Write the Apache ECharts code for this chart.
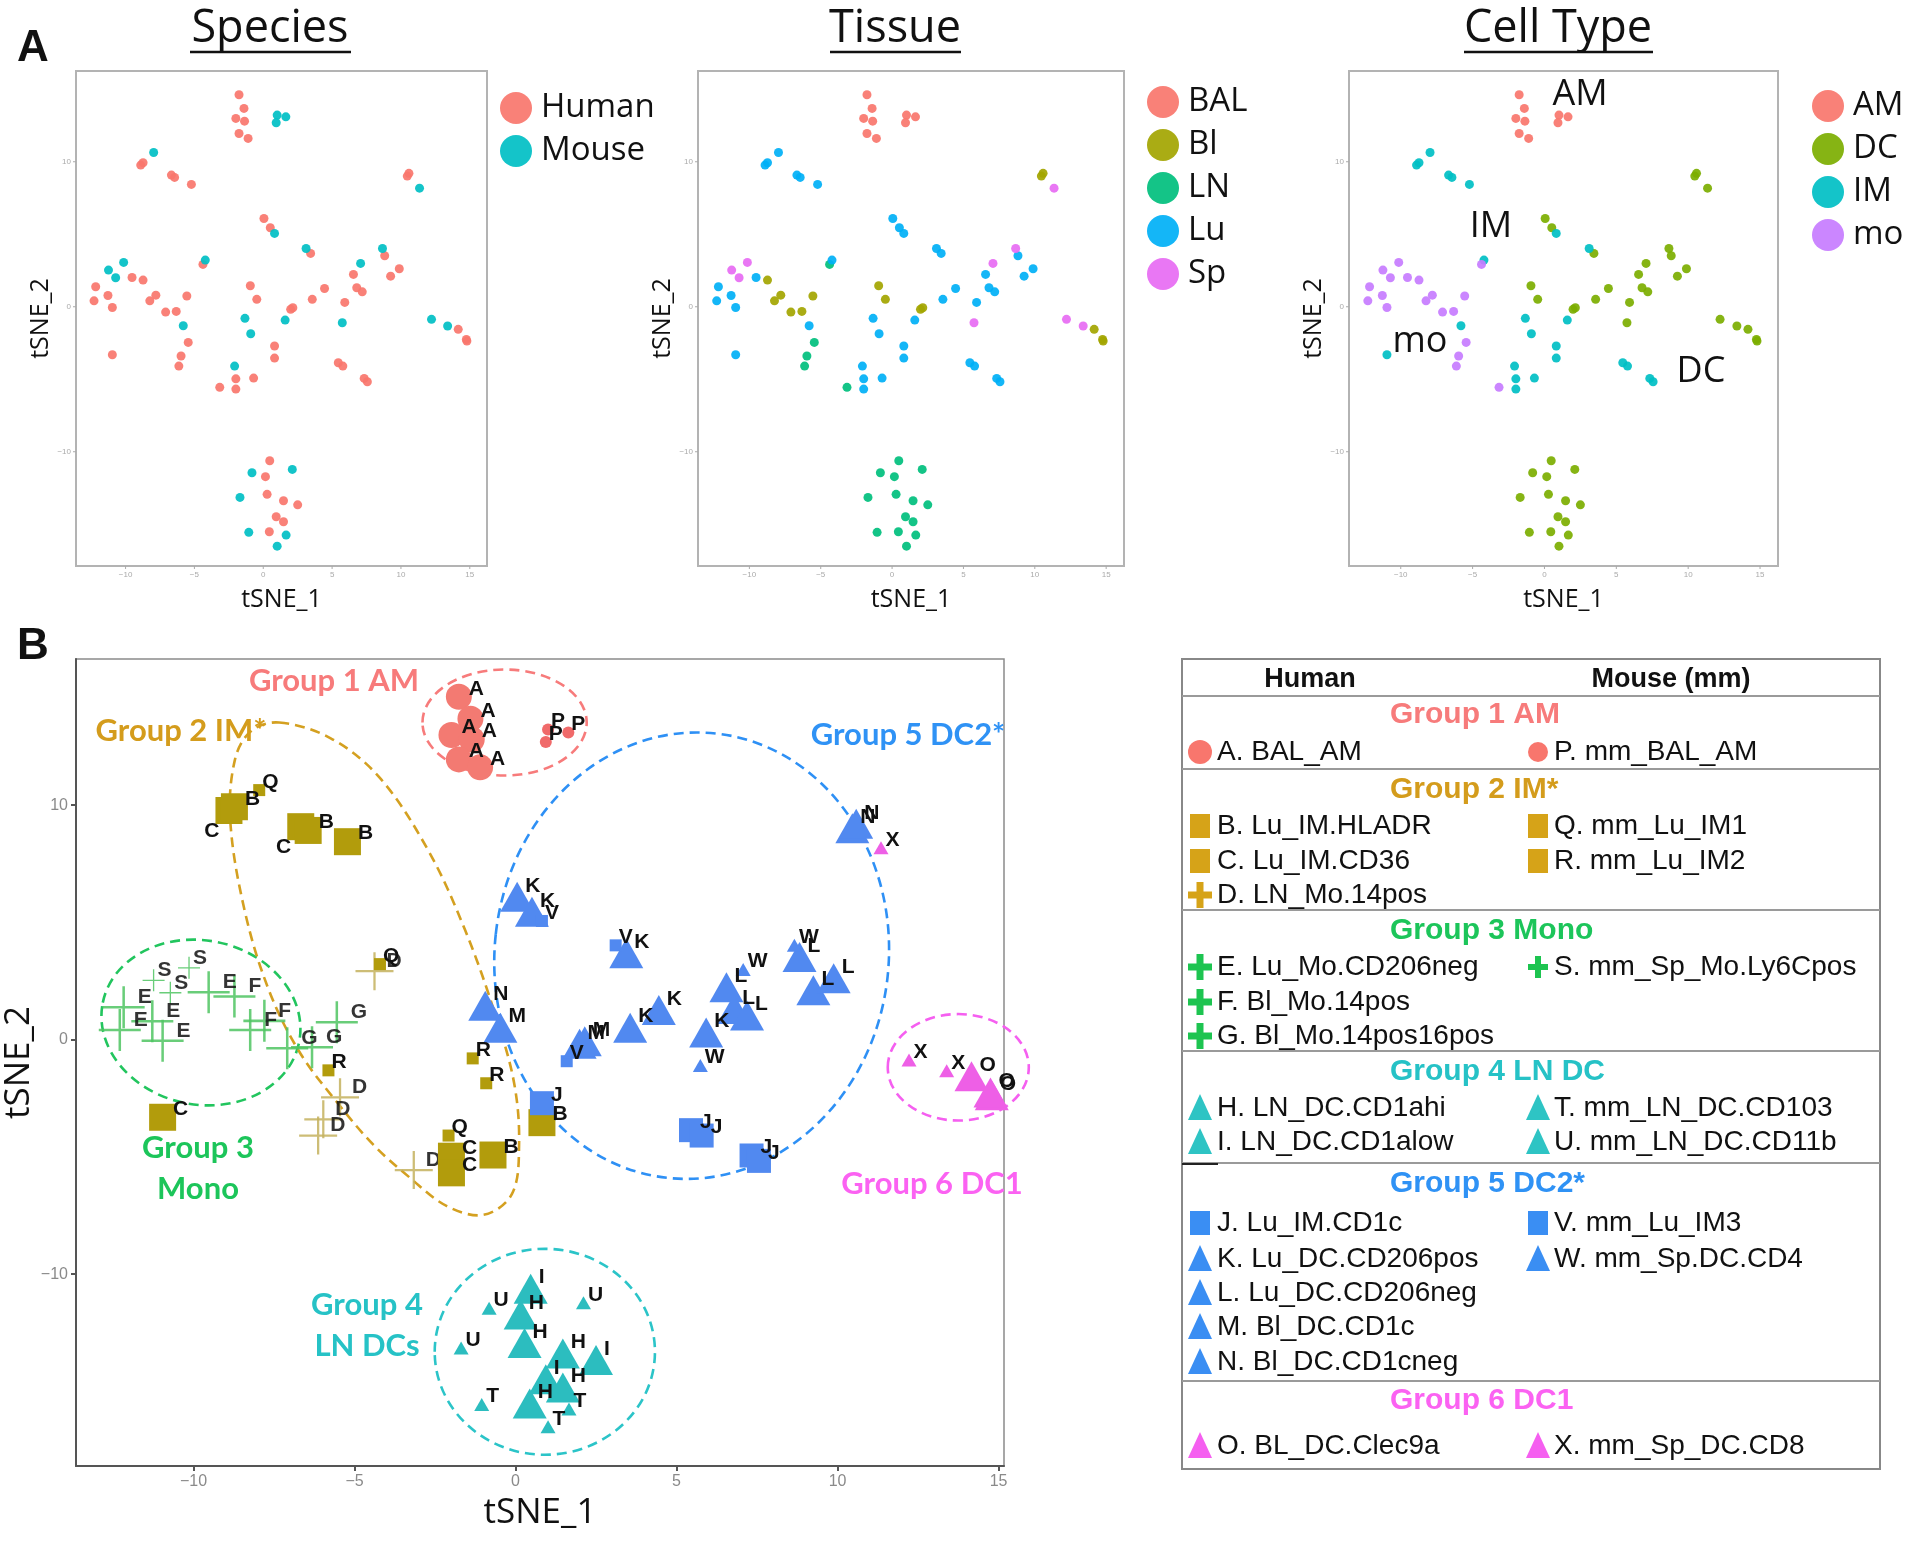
<!DOCTYPE html>
<html><head><meta charset="utf-8"><title>tSNE</title>
<script src="https://cdn.jsdelivr.net/npm/echarts@6.0.0/dist/echarts.min.js"></script>
<style>html,body{margin:0;padding:0;background:#fff;}#chart{width:1920px;height:1542px;}</style>
</head><body><div id="chart"></div>
<script>
// ---------------- DATA ----------------
const tsne1 = [-1.76,-1.40,-1.99,-1.36,-1.76,-1.10,1.01,1.64,0.94,
  -7.96,-8.90,-8.73,-6.67,-6.44,-5.22,
  10.46,10.58,11.35,
  0.05,0.51,0.82,3.11,3.44,
  -4.21,-4.38,
  -10.14,-11.24,-10.72,-9.53,-8.73,-12.17,-12.29,-11.28,-10.96,-7.80,-8.24,-5.55,-7.09,-6.32,
  -5.81,-5.45,-5.97,-6.13,-10.96,
  -0.94,-0.47,1.99,2.15,-1.33,-0.91,1.59,0.82,0.82,-2.08,-1.99,-1.99,-0.70,-3.16,
  3.56,4.45,5.92,6.55,7.07,6.79,7.19,5.74,8.66,8.82,9.25,9.88,5.45,5.78,7.33,7.56,
  12.22,13.39,14.16,14.79,14.75,
  0.47,-0.82,0.16,2.11,-1.69,0.28,1.47,2.50,0.94,1.47,-1.05,0.44,1.66,1.01];
const tsne2 = [14.62,13.68,12.99,12.80,11.95,11.61,13.22,13.10,12.69,
  10.64,9.77,9.93,9.08,8.92,8.44,
  9.01,9.20,8.18,
  6.09,5.45,5.06,4.02,3.68,
  3.22,2.92,
  3.06,2.53,2.00,2.02,1.84,1.38,0.41,0.78,-0.05,0.80,0.41,0.74,-0.37,-0.32,
  -1.31,-2.46,-3.40,-4.09,-3.31,
  1.45,0.51,-0.18,-0.07,-0.80,-1.86,-0.92,-2.71,-3.54,-4.09,-4.97,-5.68,-4.92,-5.56,
  0.51,1.26,0.30,2.23,2.99,1.31,1.03,-1.10,4.02,3.52,2.11,2.62,-3.86,-4.09,-4.94,-5.17,
  -0.87,-1.33,-1.56,-2.37,-2.25,
  -10.62,-11.45,-11.72,-11.22,-13.15,-12.94,-13.38,-13.66,-14.48,-14.83,-15.56,-15.52,-15.75,-16.51];
const species = ('H H H H H H M M M  M H H H H H  H H M  H H M M H  M H  ' +
  'M M M H H H H H H H H H H H  M H H H H  H H H H M M M H H M H H H H  ' +
  'H H H H M H H M M H H H H H H H  M M H H H  H M H M M H H H H H M H M M').trim().split(/\s+/).map(s => s === 'H' ? 'Human' : 'Mouse');
const tissue = ('BAL BAL BAL BAL BAL BAL BAL BAL BAL  Lu Lu Lu Lu Lu Lu  Bl Bl Sp  Lu Lu Lu Lu Lu  Lu LN  ' +
  'Sp Sp Sp Lu Bl Lu Lu Lu Lu Bl Bl Bl Bl Bl  Lu LN LN LN Lu  Bl Bl Bl Bl Lu Lu Lu Lu Lu Lu Lu Lu Lu LN  ' +
  'Lu Lu Lu Lu Sp Lu Lu Sp Sp Lu Lu Lu Lu Lu Lu Lu  Sp Sp Bl Bl Bl  LN LN LN LN LN LN LN LN LN LN LN LN LN LN').trim().split(/\s+/);
const cellType = ('AM AM AM AM AM AM AM AM AM  IM IM IM IM IM IM  DC DC DC  DC DC IM IM DC  IM mo  ' +
  'mo mo mo mo mo mo mo mo mo mo mo mo mo mo  IM mo mo mo IM  DC DC DC DC IM IM IM IM IM IM IM IM IM mo  ' +
  'DC DC DC DC DC DC DC DC DC DC DC DC IM IM IM IM  DC DC DC DC DC  DC DC DC DC DC DC DC DC DC DC DC DC DC DC').trim().split(/\s+/);
const sampleCode = ('A A A A A A P P P  Q C B C B B  N N X  K K V V K  Q D  ' +
  'S S S E F E E E E F F G G G  R D D D C  N M M M R R V J B Q C C B D  ' +
  'K K K L W L L W W L L L J J J J  X X O O O  I U H U U H H I I H T H T T').trim().split(/\s+/);

const speciesCats = ['Human', 'Mouse'];
const tissueCats = ['BAL', 'Bl', 'LN', 'Lu', 'Sp'];
const cellCats = ['AM', 'DC', 'IM', 'mo'];
const xTicksA = [-10, -5, 0, 5, 10, 15];
const yTicksA = [-10, 0, 10];
const xTicksB = [-10, -5, 0, 5, 10, 15];
const yTicksB = [-10, 0, 10];

const groupTitles = ['Group 1 AM', 'Group 2 IM*', 'Group 3 Mono', 'Group 4 LN DC', 'Group 5 DC2*', 'Group 6 DC1'];
const humanEntries = [['A. BAL_AM'], ['B. Lu_IM.HLADR', 'C. Lu_IM.CD36', 'D. LN_Mo.14pos'],
  ['E. Lu_Mo.CD206neg', 'F. Bl_Mo.14pos', 'G. Bl_Mo.14pos16pos'], ['H. LN_DC.CD1ahi', 'I. LN_DC.CD1alow'],
  ['J. Lu_IM.CD1c', 'K. Lu_DC.CD206pos', 'L. Lu_DC.CD206neg', 'M. Bl_DC.CD1c', 'N. Bl_DC.CD1cneg'], ['O. BL_DC.Clec9a']];
const mouseEntries = [['P. mm_BAL_AM'], ['Q. mm_Lu_IM1', 'R. mm_Lu_IM2'], ['S. mm_Sp_Mo.Ly6Cpos'],
  ['T. mm_LN_DC.CD103', 'U. mm_LN_DC.CD11b'], ['V. mm_Lu_IM3', 'W. mm_Sp.DC.CD4'], ['X. mm_Sp_DC.CD8']];

// ---------------- STYLES ----------------
const speciesColors = ['#F8766D', '#00BFC4'];
const tissueColors = ['#F8766D', '#A3A500', '#00BF7D', '#00B0F6', '#E76BF3'];
const cellColors = ['#F8766D', '#7CAE00', '#00BFC4', '#C77CFF'];
const groupText = ['#F77B7B', '#D49C1C', '#1CC55A', '#26C2C6', '#2F92F5', '#FB62F2'];
const groupIcon = ['#F8766D', '#D6A318', '#1DC450', '#2EC4C4', '#3A8EF3', '#F55FF0'];
const ringColor = ['#F77B7B', '#D4A020', '#22C55E', '#2BC4C8', '#2E90F5', '#F55FF0'];
const plusPath = 'path://M9.4,0H10.6V9.4H20V10.6H10.6V20H9.4V10.6H0V9.4H9.4Z';
const shapeOf = L => 'AP'.includes(L) ? 'circle' : 'BCQRJV'.includes(L) ? 'rect' : 'DEFGS'.includes(L) ? 'plus' : 'triangle';
const groupOf = L => 'AP'.includes(L) ? 0 : 'BCDQR'.includes(L) ? 1 : 'EFGS'.includes(L) ? 2 : 'HITU'.includes(L) ? 3 : 'JKLMNVW'.includes(L) ? 4 : 5;
const plotColor = L => ({A:'#F37A72',P:'#F06A6A',D:'#C4B25E',E:'#4FC462',F:'#4FC462',G:'#4FC462',S:'#4FC462'})[L] ||
  ['#F37A72', '#B29C0C', '#4FC462', '#2CBDBF', '#5189F0', '#EE5FE6'][groupOf(L)];
const isMouse = L => 'PQRSTUVWX'.includes(L);
function symbolFor(L) {
  const s = shapeOf(L), m = isMouse(L);
  if (s === 'circle') return { symbol: 'circle', size: m ? 12 : 26 };
  if (s === 'rect') return { symbol: 'rect', size: m ? 12 : (L === 'J' ? 24 : 27) };
  if (s === 'plus') return { symbol: plusPath, size: m ? 22 : (L === 'D' ? 38 : 42) };
  return { symbol: 'triangle', size: m ? [15, 13] : [34, 30] };
}

// ---------------- LAYOUT ----------------
const gridsA = [{left: 76, width: 411}, {left: 698, width: 426}, {left: 1349, width: 429}];
const xMinA = -13.6, xMaxA = 16.25, yMinA = -17.88, yMaxA = 16.26;
const gridB = {left: 76, top: 659, width: 928, height: 807};
const xMinB = -13.65, xMaxB = 15.17, yMinB = -18.18, yMaxB = 16.23;

const FONT = '"Open Sans", sans-serif';
const grids = gridsA.map(g => ({left: g.left, width: g.width, top: 71, height: 495, show: true,
  borderColor: '#b3b3b3', borderWidth: 2, backgroundColor: '#fff', containLabel: false, outerBoundsMode: 'none'}));
grids.push({left: gridB.left, top: gridB.top, width: gridB.width, height: gridB.height, show: true,
  borderColor: '#8a8a8a', borderWidth: 1.5, backgroundColor: '#fff', containLabel: false, outerBoundsMode: 'none'});

const minus = v => String(v).replace('-', '\u2212');
const xAxes = [], yAxes = [];
for (let i = 0; i < 3; i++) {
  xAxes.push({gridIndex: i, type: 'value', position: 'bottom', min: xMinA, max: xMaxA, splitLine: {show: false},
    axisLine: {show: false, onZero: false}, axisTick: {show: false},
    axisLabel: {customValues: xTicksA, fontSize: 8, color: '#aaa', margin: 5, formatter: minus},
    name: 'tSNE_1', nameLocation: 'middle', nameGap: 21,
    nameTextStyle: {fontFamily: FONT, fontSize: 25, color: '#111'}});
  yAxes.push({gridIndex: i, type: 'value', position: 'left', min: yMinA, max: yMaxA, splitLine: {show: false},
    axisLine: {show: false, onZero: false}, axisTick: {show: false},
    axisLabel: {customValues: yTicksA, fontSize: 8, color: '#aaa', margin: 5, formatter: minus},
    name: 'tSNE_2', nameLocation: 'middle', nameGap: 20,
    nameTextStyle: {fontFamily: FONT, fontSize: 25, color: '#111'}});
}
xAxes.push({gridIndex: 3, type: 'value', position: 'bottom', min: xMinB, max: xMaxB, splitLine: {show: false},
  axisLine: {show: true, onZero: false, lineStyle: {color: '#555', width: 2}},
  axisTick: {show: true, length: 5, customValues: xTicksB, lineStyle: {color: '#555', width: 2}},
  axisLabel: {customValues: xTicksB, fontSize: 16, color: '#8a8a8a', margin: 8, fontFamily: 'Liberation Sans', formatter: minus},
  name: 'tSNE_1', nameLocation: 'middle', nameGap: 30,
  nameTextStyle: {fontFamily: FONT, fontSize: 35, color: '#111'}});
yAxes.push({gridIndex: 3, type: 'value', position: 'left', min: yMinB, max: yMaxB, splitLine: {show: false},
  axisLine: {show: true, onZero: false, lineStyle: {color: '#555', width: 2}},
  axisTick: {show: true, length: 5, customValues: yTicksB, lineStyle: {color: '#555', width: 2}},
  axisLabel: {customValues: yTicksB, fontSize: 16, color: '#8a8a8a', margin: 8, fontFamily: 'Liberation Sans', formatter: minus},
  name: 'tSNE_2', nameLocation: 'middle', nameGap: 34,
  nameTextStyle: {fontFamily: FONT, fontSize: 35, color: '#111'}});

// ---------------- SERIES ----------------
const series = [];
function panelA(catArr, cats, colors, idx) {
  cats.forEach((c, i) => {
    series.push({type: 'scatter', name: c, xAxisIndex: idx, yAxisIndex: idx, symbol: 'circle', symbolSize: 9,
      itemStyle: {color: colors[i], opacity: 0.92}, z: 3, silent: true,
      data: tsne1.map((x, k) => catArr[k] === c ? [x, tsne2[k]] : null).filter(d => d)});
  });
}
panelA(species, speciesCats, speciesColors, 0);
panelA(tissue, tissueCats, tissueColors, 1);
panelA(cellType, cellCats, cellColors, 2);

const baseLabel = {show: true, position: 'right', distance: -3, offset: [0, -8],
  fontFamily: 'Liberation Sans', fontWeight: 'bold', fontSize: 21, color: '#111'};
function labelFor(L, y) {
  const shp = shapeOf(L);
  if (L === 'C' && y > 5) return Object.assign({}, baseLabel, {formatter: L, position: 'left', distance: -4, offset: [0, 21]});
  if (shp === 'triangle' && !isMouse(L)) return Object.assign({}, baseLabel, {formatter: L, distance: -9, offset: [0, -11]});
  if (shp === 'plus') return Object.assign({}, baseLabel, {formatter: L, distance: -7, offset: [0, -10]});
  return Object.assign({}, baseLabel, {formatter: L});
}
const letters = [...new Set(sampleCode)];
letters.forEach(L => {
  const sym = symbolFor(L), shp = shapeOf(L);
  series.push({type: 'scatter', name: 'code ' + L, xAxisIndex: 3, yAxisIndex: 3, symbol: sym.symbol,
    symbolSize: sym.size, z: shp === 'plus' ? 3 : 4, silent: true,
    itemStyle: {color: plotColor(L), opacity: shp === 'plus' ? 0.85 : 1},
    data: tsne1.map((x, k) => sampleCode[k] === L ? {value: [x, tsne2[k]], label: labelFor(L, tsne2[k])} : null).filter(d => d)});
});

const legendBase = {orient: 'vertical', icon: 'circle', itemWidth: 32, itemHeight: 32, itemGap: 7, padding: 0,
  selectedMode: false, textStyle: {fontFamily: FONT, fontSize: 33, color: '#111', lineHeight: 36, padding: [0, 0, 0, 4]}};
const legends = [
  Object.assign({}, legendBase, {data: speciesCats, left: 500, top: 90}),
  Object.assign({}, legendBase, {data: tissueCats, left: 1147, top: 84}),
  Object.assign({}, legendBase, {data: cellCats, left: 1812, top: 88})
];

const chart = echarts.init(document.getElementById('chart'), null, {renderer: 'canvas', width: 1920, height: 1542});
chart.setOption({animation: false, backgroundColor: '#fff', grid: grids, xAxis: xAxes, yAxis: yAxes,
  legend: legends, series: series});

// ---------------- ANNOTATIONS (outlines in data space) ----------------
const ellipses = [
  {g: 0, cx: -0.34, cy: 13.52, rx: 2.55, ry: 2.26, rot: 0},
  {g: 2, cx: -9.77, cy: 0.73, rx: 3.11, ry: 3.5, rot: -0.2},
  {g: 3, cx: 0.91, cy: -13.31, rx: 3.42, ry: 4.39, rot: 0},
  {g: 4, cx: 5.47, cy: 3.58, rx: 6.12, ry: 9.53, rot: -0.11},
  {g: 5, cx: 13.75, cy: -1.18, rx: 2.19, ry: 2.27, rot: 0}
];
const group2Outline = [[-7.34,13.52],[-5.74,12.85],[-4.22,11.17],[-2.70,8.04],[-1.56,4.65],[-0.61,0.99],[-0.04,-1.88],
  [0.11,-4.49],[-0.11,-6.58],[-0.99,-7.47],[-2.13,-7.10],[-3.27,-5.90],[-4.41,-4.49],[-5.55,-2.66],[-6.69,-0.57],
  [-7.64,2.04],[-8.40,5.43],[-8.86,9.35],[-8.71,11.96],[-8.21,13.16]];

const toPx = p => chart.convertToPixel({xAxisIndex: 3, yAxisIndex: 3}, p);
const o = toPx([0, 0]), ux = toPx([1, 0])[0] - o[0], uy = o[1] - toPx([0, 1])[1];
const G = [];
const dash = {lineDash: [10, 6], lineWidth: 2.6, fill: null};
ellipses.forEach(e => {
  const c = toPx([e.cx, e.cy]);
  G.push({type: 'ellipse', x: c[0], y: c[1], rotation: e.rot, z: 1, silent: true,
    shape: {cx: 0, cy: 0, rx: e.rx * ux, ry: e.ry * uy},
    style: Object.assign({stroke: ringColor[e.g]}, dash)});
});
G.push({type: 'polygon', z: 1, silent: true, shape: {points: group2Outline.map(toPx), smooth: 0.35},
  style: Object.assign({stroke: ringColor[1]}, dash)});

// small outside ticks for panel A frames (positions from the axes)
[0, 1, 2].forEach(i => {
  xTicksA.forEach(v => {
    const p = chart.convertToPixel({xAxisIndex: i, yAxisIndex: i}, [v, yMinA]);
    G.push({type: 'line', silent: true, shape: {x1: p[0], y1: p[1], x2: p[0], y2: p[1] + 3}, style: {stroke: '#aaa', lineWidth: 1}});
  });
  yTicksA.forEach(v => {
    const p = chart.convertToPixel({xAxisIndex: i, yAxisIndex: i}, [xMinA, v]);
    G.push({type: 'line', silent: true, shape: {x1: p[0] - 3, y1: p[1], x2: p[0], y2: p[1]}, style: {stroke: '#aaa', lineWidth: 1}});
  });
});

function T(x, y, text, size, color, opt) {
  return {type: 'text', x: x, y: y, z: 10, silent: true, style: Object.assign({text: text, fontSize: size,
    fontFamily: FONT, fill: color, align: 'center', verticalAlign: 'middle'}, opt || {})};
}
// Panel letters and titles
G.push(T(33, 49, 'A', 44, '#111', {fontFamily: 'Liberation Sans', fontWeight: 'bold'}));
G.push(T(33, 647, 'B', 44, '#111', {fontFamily: 'Liberation Sans', fontWeight: 'bold'}));
[[270, 'Species', 190, 351], [895, 'Tissue', 830, 961], [1558, 'Cell Type', 1464, 1653]].forEach(t => {
  G.push(T(t[0], 29, t[1], 45, '#111'));
  G.push({type: 'line', silent: true, shape: {x1: t[2], y1: 52, x2: t[3], y2: 52}, style: {stroke: '#111', lineWidth: 2.5}});
});
// Cell type annotations
G.push(T(1580, 95, 'AM', 36, '#111'));
G.push(T(1491, 227, 'IM', 36, '#111'));
G.push(T(1420, 342, 'mo', 36, '#111'));
G.push(T(1701, 372, 'DC', 36, '#111'));
// Group labels on panel B
const gl = {fontFamily: 'Lato, sans-serif', fontWeight: 'bold', lineHeight: 41};
G.push(T(334, 681, groupTitles[0], 31, groupText[0], gl));
G.push(T(181, 731, 'Group 2 IM*', 31, groupText[1], gl));
G.push(T(908, 735, 'Group 5 DC2*', 31, groupText[4], gl));
G.push(T(198, 1168, 'Group 3\nMono', 31, groupText[2], gl));
G.push(T(932, 1184, 'Group 6 DC1', 31, groupText[5], gl));
G.push(T(367, 1325, 'Group 4\nLN DCs', 31, groupText[3], gl));

// ---------------- TABLE LEGEND FOR PANEL B ----------------
const TL = 1182, TR = 1880, TT = 659, TB = 1469;
G.push({type: 'rect', silent: true, shape: {x: TL, y: TT, width: TR - TL, height: TB - TT}, style: {fill: '#fff', stroke: '#888', lineWidth: 2}, z: 5});
G.push(T(1310, 680, 'Human', 27, '#111', {fontFamily: 'Liberation Sans', fontWeight: 'bold'}));
G.push(T(1671, 680, 'Mouse (mm)', 27, '#111', {fontFamily: 'Liberation Sans', fontWeight: 'bold'}));
const sepY = [696, 769, 910, 1051, 1163, 1381];
sepY.forEach(y => G.push({type: 'line', silent: true, z: 6, shape: {x1: TL, y1: y, x2: TR, y2: y}, style: {stroke: '#9a9a9a', lineWidth: 2}}));
G.push({type: 'line', silent: true, z: 7, shape: {x1: TL, y1: 1164, x2: TL + 36, y2: 1164}, style: {stroke: '#222', lineWidth: 2}});
const titleY = [715, 790, 931, 1072, 1184, 1401];
const rowY = [[752], [826, 861, 895], [967, 1002, 1036], [1108, 1142], [1223, 1259, 1293, 1327, 1362], [1446]];
function icon(L, cx, cy, color) {
  const s = shapeOf(L), m = isMouse(L);
  if (s === 'circle') return [{type: 'circle', z: 7, silent: true, shape: {cx: cx, cy: cy, r: m ? 10 : 12}, style: {fill: color}}];
  if (s === 'rect') return [{type: 'rect', z: 7, silent: true, shape: {x: cx - 10, y: cy - 12, width: 20, height: 24}, style: {fill: color}}];
  if (s === 'plus') {
    const a = m ? 10 : 12, w = m ? 3 : 3.5;
    return [{type: 'rect', z: 7, silent: true, shape: {x: cx - a, y: cy - w, width: 2 * a, height: 2 * w}, style: {fill: color}},
            {type: 'rect', z: 7, silent: true, shape: {x: cx - w, y: cy - a - 1, width: 2 * w, height: 2 * a + 2}, style: {fill: color}}];
  }
  return [{type: 'polygon', z: 7, silent: true, shape: {points: [[cx, cy - 14], [cx + 12, cy + 12], [cx - 12, cy + 12]]}, style: {fill: color}}];
}
groupTitles.forEach((gt, gi) => {
  G.push(T(1390, titleY[gi], gt, 30, groupText[gi], {fontFamily: 'Liberation Sans', fontWeight: 'bold', align: 'left'}));
  humanEntries[gi].forEach((txt, r) => {
    const y = rowY[gi][r];
    icon(txt[0], 1200, y, groupIcon[gi]).forEach(e => G.push(e));
    G.push(T(1217, y, txt, 28, '#111', {fontFamily: 'Liberation Sans', align: 'left'}));
  });
  mouseEntries[gi].forEach((txt, r) => {
    const y = rowY[gi][r];
    icon(txt[0], 1538, y, groupIcon[gi]).forEach(e => G.push(e));
    G.push(T(1554, y, txt, 28, '#111', {fontFamily: 'Liberation Sans', align: 'left'}));
  });
});

chart.setOption({graphic: {elements: G}});
</script></body></html>
